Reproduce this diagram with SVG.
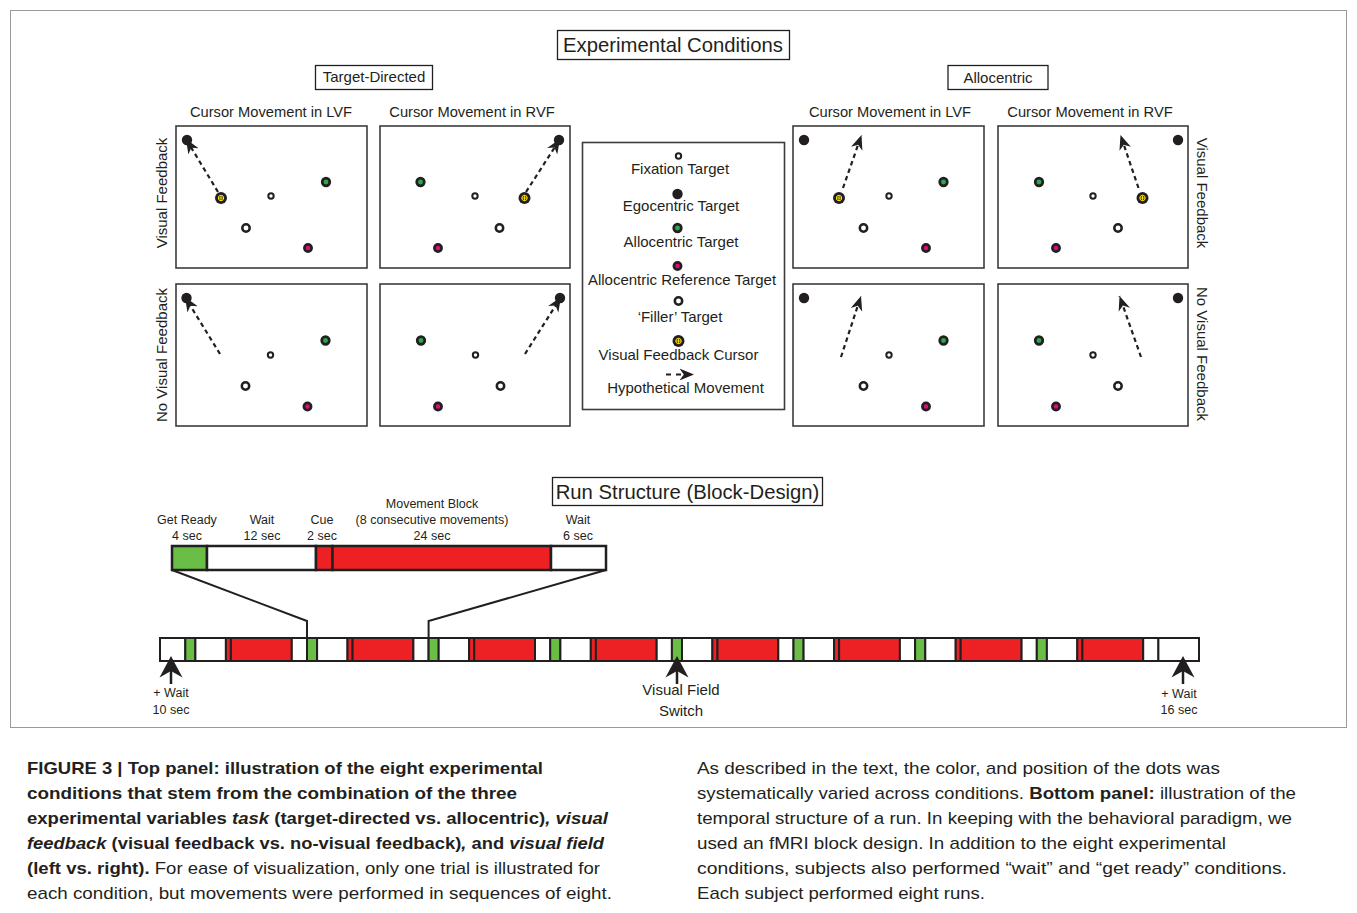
<svg xmlns="http://www.w3.org/2000/svg" width="1357" height="913" viewBox="0 0 1357 913">
<defs>
<style>
text{font-family:"Liberation Sans",Arial,sans-serif;fill:#231f20}
.ttl{font-size:20.3px;text-anchor:middle}
.grp{font-size:15px;text-anchor:middle}
.col{font-size:14.7px;text-anchor:middle}
.side{font-size:15px;text-anchor:middle}
.leg{font-size:15px;text-anchor:middle}
.sm{font-size:12.5px;text-anchor:middle}
.vf{font-size:15px;text-anchor:middle}
.cap{font-size:17px}
.b{font-weight:bold}
.i{font-style:italic}
.box{fill:#fff;stroke:#231f20;stroke-width:1.3}
.panel{fill:#fff;stroke:#3c3c3c;stroke-width:1.6}
.ego{fill:#231f20}
.fix{fill:#fff;stroke:#231f20;stroke-width:2}
.fil{fill:#fff;stroke:#231f20;stroke-width:2.5}
.grn{fill:#2aa84a;stroke:#231f20;stroke-width:2.7}
.mag{fill:#e4087f;stroke:#231f20;stroke-width:2.7}
.mv{fill:none;stroke:#231f20;stroke-width:2.2;stroke-dasharray:4.5 3.5;marker-end:url(#ah)}
.seg{stroke:#231f20;stroke-width:2}
.w{fill:#fff}
.g{fill:#6abd45}
.r{fill:#ed2024}
.ln{fill:none;stroke:#231f20;stroke-width:2}
.up{fill:#231f20}
</style>
<marker id="ah" markerUnits="userSpaceOnUse" viewBox="0 0 15 13" markerWidth="15" markerHeight="13" refX="14.5" refY="6.5" orient="auto">
<path d="M14.5,6.5 L0,0.5 L4.3,6.5 L0,12.5 Z" fill="#231f20"/>
</marker>
<g id="cur">
<circle r="6" fill="#231f20"/>
<circle r="2.7" fill="none" stroke="#ffe600" stroke-width="1"/>
<path d="M-2.7,0H2.7M0,-2.7V2.7" stroke="#ffe600" stroke-width="0.9"/>
</g>
</defs>

<rect x="10.5" y="10.5" width="1336" height="717" fill="none" stroke="#9a9a9a" stroke-width="1"/>

<g id="title-experimental">
<rect class="box" x="557.5" y="30.5" width="232" height="29"/>
<text class="ttl" x="673" y="52">Experimental Conditions</text>
</g>
<g id="title-target-directed">
<rect class="box" x="315.5" y="65.5" width="117" height="24"/>
<text class="grp" x="374" y="82">Target-Directed</text>
</g>
<g id="title-allocentric">
<rect class="box" x="948" y="65.5" width="100" height="24"/>
<text class="grp" x="998" y="83">Allocentric</text>
</g>

<g id="column-labels">
<text class="col" x="271" y="117">Cursor Movement in LVF</text>
<text class="col" x="472" y="117">Cursor Movement in RVF</text>
<text class="col" x="890" y="117">Cursor Movement in LVF</text>
<text class="col" x="1090" y="117">Cursor Movement in RVF</text>
</g>
<g id="row-labels">
<text class="side" transform="translate(167,193) rotate(-90)">Visual Feedback</text>
<text class="side" transform="translate(167,355) rotate(-90)">No Visual Feedback</text>
<text class="side" transform="translate(1197,193) rotate(90)">Visual Feedback</text>
<text class="side" transform="translate(1197,354) rotate(90)">No Visual Feedback</text>
</g>

<g id="panel-td-lvf-vf" transform="translate(176,126)">
<rect class="panel" x="0" y="0" width="191" height="142"/>
<circle class="ego" cx="11" cy="14" r="5.2"/>
<circle class="fix" cx="95" cy="70" r="2.7"/>
<circle class="grn" cx="150" cy="56" r="3.8"/>
<circle class="fil" cx="70" cy="102" r="3.7"/>
<circle class="mag" cx="132" cy="122" r="3.6"/>
<path class="mv" d="M42,66 L10,13"/>
<use href="#cur" x="45" y="72"/>
</g>
<g id="panel-td-rvf-vf" transform="translate(380,126)">
<rect class="panel" x="0" y="0" width="190" height="142"/>
<circle class="ego" cx="179" cy="14" r="5.2"/>
<circle class="fix" cx="95" cy="70" r="2.7"/>
<circle class="grn" cx="40.5" cy="56" r="3.8"/>
<circle class="fil" cx="119.5" cy="102" r="3.7"/>
<circle class="mag" cx="58" cy="122" r="3.6"/>
<path class="mv" d="M146,66 L180,13"/>
<use href="#cur" x="144.5" y="72"/>
</g>
<g id="panel-td-lvf-nvf" transform="translate(176,284)">
<rect class="panel" x="0" y="0" width="191" height="142"/>
<circle class="ego" cx="10.5" cy="14" r="5.2"/>
<circle class="fix" cx="94.5" cy="71" r="2.7"/>
<circle class="grn" cx="149.5" cy="56.5" r="3.8"/>
<circle class="fil" cx="69.5" cy="102" r="3.7"/>
<circle class="mag" cx="131.5" cy="122.5" r="3.6"/>
<path class="mv" d="M44,70 L9,13"/>
</g>
<g id="panel-td-rvf-nvf" transform="translate(380,284)">
<rect class="panel" x="0" y="0" width="190" height="142"/>
<circle class="ego" cx="180" cy="14" r="5.2"/>
<circle class="fix" cx="95.5" cy="71" r="2.7"/>
<circle class="grn" cx="41" cy="56.5" r="3.8"/>
<circle class="fil" cx="120.5" cy="102" r="3.7"/>
<circle class="mag" cx="58" cy="122.5" r="3.6"/>
<path class="mv" d="M145,70 L181,13"/>
</g>

<g id="panel-al-lvf-vf" transform="translate(793,126)">
<rect class="panel" x="0" y="0" width="191" height="142"/>
<circle class="ego" cx="11" cy="14" r="5.2"/>
<circle class="fix" cx="96" cy="70" r="2.7"/>
<circle class="grn" cx="150.5" cy="56" r="3.8"/>
<circle class="fil" cx="70.5" cy="102" r="3.7"/>
<circle class="mag" cx="133" cy="122" r="3.6"/>
<path class="mv" d="M50,62 L68.5,9"/>
<use href="#cur" x="46" y="72"/>
</g>
<g id="panel-al-rvf-vf" transform="translate(998,126)">
<rect class="panel" x="0" y="0" width="190" height="142"/>
<circle class="ego" cx="180" cy="14" r="5.2"/>
<circle class="fix" cx="95" cy="70" r="2.7"/>
<circle class="grn" cx="41" cy="56" r="3.8"/>
<circle class="fil" cx="120" cy="102" r="3.7"/>
<circle class="mag" cx="58" cy="122" r="3.6"/>
<path class="mv" d="M140.5,62 L122.5,9"/>
<use href="#cur" x="144.5" y="72"/>
</g>
<g id="panel-al-lvf-nvf" transform="translate(793,284)">
<rect class="panel" x="0" y="0" width="191" height="142"/>
<circle class="ego" cx="11" cy="14" r="5.2"/>
<circle class="fix" cx="96" cy="71" r="2.7"/>
<circle class="grn" cx="150.5" cy="56.5" r="3.8"/>
<circle class="fil" cx="70.5" cy="102" r="3.7"/>
<circle class="mag" cx="133" cy="122.5" r="3.6"/>
<path class="mv" d="M48,73 L68,12"/>
</g>
<g id="panel-al-rvf-nvf" transform="translate(998,284)">
<rect class="panel" x="0" y="0" width="190" height="142"/>
<circle class="ego" cx="180" cy="14" r="5.2"/>
<circle class="fix" cx="95" cy="71" r="2.7"/>
<circle class="grn" cx="41" cy="56.5" r="3.8"/>
<circle class="fil" cx="120" cy="102" r="3.7"/>
<circle class="mag" cx="58" cy="122.5" r="3.6"/>
<path class="mv" d="M143,73 L121.5,12"/>
</g>

<g id="legend">
<rect class="panel" x="582.5" y="142.5" width="202" height="267"/>
<circle class="fix" cx="678.5" cy="156" r="2.7"/>
<text class="leg" x="680" y="174">Fixation Target</text>
<circle class="ego" cx="677.5" cy="194" r="5.2"/>
<text class="leg" x="681" y="211">Egocentric Target</text>
<circle class="grn" cx="677.5" cy="228" r="3.8"/>
<text class="leg" x="681" y="247">Allocentric Target</text>
<circle class="mag" cx="677.5" cy="266" r="3.6"/>
<text class="leg" x="682" y="285">Allocentric Reference Target</text>
<circle class="fil" cx="678.5" cy="301" r="3.7"/>
<text class="leg" x="680" y="322">‘Filler’ Target</text>
<use href="#cur" x="678.5" y="341"/>
<text class="leg" x="678.5" y="360">Visual Feedback Cursor</text>
<path class="mv" d="M666,374.5 L694,374.5" style="stroke-dasharray:5 5"/>
<text class="leg" x="685.5" y="393">Hypothetical Movement</text>
</g>

<g id="title-run-structure">
<rect class="box" x="552.5" y="477.5" width="270" height="28"/>
<text class="ttl" x="687.5" y="499">Run Structure (Block-Design)</text>
</g>

<g id="block-labels">
<text class="sm" x="187" y="524">Get Ready</text>
<text class="sm" x="187" y="540">4 sec</text>
<text class="sm" x="262" y="524">Wait</text>
<text class="sm" x="262" y="540">12 sec</text>
<text class="sm" x="322" y="524">Cue</text>
<text class="sm" x="322" y="540">2 sec</text>
<text class="sm" x="432" y="508">Movement Block</text>
<text class="sm" x="432" y="524">(8 consecutive movements)</text>
<text class="sm" x="432" y="540">24 sec</text>
<text class="sm" x="578" y="524">Wait</text>
<text class="sm" x="578" y="540">6 sec</text>
</g>

<g id="block-bar">
<rect class="seg g" x="172" y="546" width="35" height="24" style="stroke-width:2.5"/>
<rect class="seg w" x="207" y="546" width="109" height="24" style="stroke-width:2.5"/>
<rect class="seg r" x="316" y="546" width="16.5" height="24" style="stroke-width:2.5"/>
<rect class="seg r" x="332.5" y="546" width="218.5" height="24" style="stroke-width:2.5"/>
<rect class="seg w" x="551" y="546" width="55" height="24" style="stroke-width:2.5"/>
</g>

<g id="connectors">
<polyline class="ln" points="172,570 307,621 307,638"/>
<polyline class="ln" points="606,570 428.6,621 428.6,638"/>
</g>

<g id="run-bar">
<rect class="seg w" x="160" y="638" width="25.3" height="23"/>
<rect class="seg g" x="185.3" y="638" width="10.1" height="23"/>
<rect class="seg w" x="195.4" y="638" width="30.5" height="23"/>
<rect class="seg r" x="225.9" y="638" width="5" height="23"/>
<rect class="seg r" x="230.9" y="638" width="60.9" height="23"/>
<rect class="seg w" x="291.8" y="638" width="15.2" height="23"/>

<rect class="seg g" x="307" y="638" width="10.1" height="23"/>
<rect class="seg w" x="317.1" y="638" width="30.4" height="23"/>
<rect class="seg r" x="347.5" y="638" width="5.1" height="23"/>
<rect class="seg r" x="352.6" y="638" width="60.8" height="23"/>
<rect class="seg w" x="413.4" y="638" width="15.2" height="23"/>

<rect class="seg g" x="428.6" y="638" width="10.1" height="23"/>
<rect class="seg w" x="438.7" y="638" width="30.4" height="23"/>
<rect class="seg r" x="469.1" y="638" width="5.1" height="23"/>
<rect class="seg r" x="474.2" y="638" width="60.8" height="23"/>
<rect class="seg w" x="535" y="638" width="15.2" height="23"/>

<rect class="seg g" x="550.2" y="638" width="10.2" height="23"/>
<rect class="seg w" x="560.4" y="638" width="30.4" height="23"/>
<rect class="seg r" x="590.8" y="638" width="5.1" height="23"/>
<rect class="seg r" x="595.9" y="638" width="60.8" height="23"/>
<rect class="seg w" x="656.7" y="638" width="15.2" height="23"/>

<rect class="seg g" x="671.9" y="638" width="10.1" height="23"/>
<rect class="seg w" x="682" y="638" width="30.4" height="23"/>
<rect class="seg r" x="712.4" y="638" width="5.1" height="23"/>
<rect class="seg r" x="717.5" y="638" width="60.8" height="23"/>
<rect class="seg w" x="778.3" y="638" width="15.2" height="23"/>

<rect class="seg g" x="793.5" y="638" width="10.1" height="23"/>
<rect class="seg w" x="803.6" y="638" width="30.4" height="23"/>
<rect class="seg r" x="834" y="638" width="5.1" height="23"/>
<rect class="seg r" x="839.1" y="638" width="60.8" height="23"/>
<rect class="seg w" x="899.9" y="638" width="15.2" height="23"/>

<rect class="seg g" x="915.1" y="638" width="10.2" height="23"/>
<rect class="seg w" x="925.3" y="638" width="30.4" height="23"/>
<rect class="seg r" x="955.7" y="638" width="5" height="23"/>
<rect class="seg r" x="960.7" y="638" width="60.9" height="23"/>
<rect class="seg w" x="1021.6" y="638" width="15.2" height="23"/>

<rect class="seg g" x="1036.8" y="638" width="10.1" height="23"/>
<rect class="seg w" x="1046.9" y="638" width="30.4" height="23"/>
<rect class="seg r" x="1077.3" y="638" width="5.1" height="23"/>
<rect class="seg r" x="1082.4" y="638" width="60.8" height="23"/>
<rect class="seg w" x="1143.2" y="638" width="15.2" height="23"/>
<rect class="seg w" x="1158.4" y="638" width="40.6" height="23"/>
</g>

<g id="marker-start-wait">
<polygon class="up" points="171,656 182.5,677.5 171,671 159.5,677.5"/>
<line x1="171" y1="671" x2="171" y2="684" stroke="#231f20" stroke-width="2.5"/>
<text class="sm" x="171" y="697">+ Wait</text>
<text class="sm" x="171" y="714">10 sec</text>
</g>
<g id="marker-switch">
<polygon class="up" points="677,656 688.5,677.5 677,671 665.5,677.5"/>
<line x1="677" y1="671" x2="677" y2="684" stroke="#231f20" stroke-width="2.5"/>
<text class="vf" x="681" y="695">Visual Field</text>
<text class="vf" x="681" y="716">Switch</text>
</g>
<g id="marker-end-wait">
<polygon class="up" points="1183,656 1194.5,677.5 1183,671 1171.5,677.5"/>
<line x1="1183" y1="671" x2="1183" y2="684" stroke="#231f20" stroke-width="2.5"/>
<text class="sm" x="1179" y="698">+ Wait</text>
<text class="sm" x="1179" y="714">16 sec</text>
</g>

<g id="caption">
<text class="cap b" x="27" y="774" textLength="516" lengthAdjust="spacingAndGlyphs">FIGURE 3 | Top panel: illustration of the eight experimental</text>
<text class="cap b" x="27" y="799" textLength="490" lengthAdjust="spacingAndGlyphs">conditions that stem from the combination of the three</text>
<text class="cap b" x="27" y="824" textLength="581" lengthAdjust="spacingAndGlyphs">experimental variables <tspan class="i">task</tspan> (target-directed vs. allocentric)<tspan class="i">, visual</tspan></text>
<text class="cap b" x="27" y="849" textLength="577" lengthAdjust="spacingAndGlyphs"><tspan class="i">feedback</tspan> (visual feedback vs. no-visual feedback)<tspan class="i">,</tspan> and <tspan class="i">visual field</tspan></text>
<text class="cap" x="27" y="874" textLength="573" lengthAdjust="spacingAndGlyphs"><tspan class="b">(left vs. right).</tspan> For ease of visualization, only one trial is illustrated for</text>
<text class="cap" x="27" y="899" textLength="585" lengthAdjust="spacingAndGlyphs">each condition, but movements were performed in sequences of eight.</text>

<text class="cap" x="697" y="774" textLength="523" lengthAdjust="spacingAndGlyphs">As described in the text, the color, and position of the dots was</text>
<text class="cap" x="697" y="799" textLength="599" lengthAdjust="spacingAndGlyphs">systematically varied across conditions. <tspan class="b">Bottom panel:</tspan> illustration of the</text>
<text class="cap" x="697" y="824" textLength="595" lengthAdjust="spacingAndGlyphs">temporal structure of a run. In keeping with the behavioral paradigm, we</text>
<text class="cap" x="697" y="849" textLength="529" lengthAdjust="spacingAndGlyphs">used an fMRI block design. In addition to the eight experimental</text>
<text class="cap" x="697" y="874" textLength="590" lengthAdjust="spacingAndGlyphs">conditions, subjects also performed “wait” and “get ready” conditions.</text>
<text class="cap" x="697" y="899" textLength="288" lengthAdjust="spacingAndGlyphs">Each subject performed eight runs.</text>
</g>
</svg>
